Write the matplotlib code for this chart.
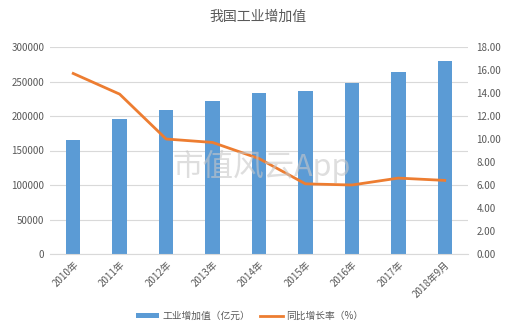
import matplotlib
matplotlib.use("Agg")
import matplotlib.pyplot as plt
import numpy as np

plt.rcParams['font.family'] = ['Noto Sans CJK SC', 'DejaVu Sans']

categories = ["2010年", "2011年", "2012年", "2013年", "2014年", "2015年", "2016年", "2017年", "2018年9月"]
value_added = [165126, 195142, 208906, 222338, 233856, 236506, 247878, 263500, 280000]
growth_rate = [15.7, 13.9, 10.0, 9.7, 8.3, 6.1, 6.0, 6.6, 6.4]
left_ticks = [0, 50000, 100000, 150000, 200000, 250000, 300000]
right_ticks = [0, 2, 4, 6, 8, 10, 12, 14, 16, 18]

bar_color = '#5b9bd5'
line_color = '#ed7d31'
text_color = '#595959'
grid_color = '#d9d9d9'

fig = plt.figure(figsize=(5.17, 3.33), dpi=100)
ax = fig.add_axes([50/517, 1-254/333, 418/517, 207/333])
x = np.arange(len(categories))
ax.bar(x, value_added, width=0.31, color=bar_color, zorder=2, label='工业增加值（亿元）')
ax.set_xlim(-0.5, len(categories)-0.5)
ax.set_ylim(0, 300000)
ax.set_yticks(left_ticks)
ax.set_yticklabels([str(t) for t in left_ticks])
ax.grid(axis='y', color=grid_color, linewidth=0.8, zorder=0)
ax.set_axisbelow(True)
for s in ['top', 'right', 'left']:
    ax.spines[s].set_visible(False)
ax.spines['bottom'].set_color(grid_color)
ax.tick_params(axis='both', length=0, labelsize=7, colors=text_color, pad=4)
ax.set_xticks(x)
ax.set_xticklabels(categories, rotation=45, ha='right', rotation_mode='anchor')

ax2 = ax.twinx()
ax2.plot(x, growth_rate, color=line_color, linewidth=2, zorder=3, label='同比增长率（%）')
ax2.set_ylim(0, 18)
ax2.set_yticks(right_ticks)
ax2.set_yticklabels([f"{t:.2f}" for t in right_ticks])
for s in ['top', 'right', 'left', 'bottom']:
    ax2.spines[s].set_visible(False)
ax2.tick_params(axis='y', length=0, labelsize=7, colors=text_color, pad=6)

fig.text(258/517, 1-17/333, '我国工业增加值', ha='center', va='center', fontsize=10, color=text_color)
fig.text(262/517, 1-166/333, '市值风云App', ha='center', va='center', fontsize=22,
         color='#c8c8c8', alpha=0.6, zorder=10)

h1, l1 = ax.get_legend_handles_labels()
h2, l2 = ax2.get_legend_handles_labels()
fig.legend(h1 + h2, l1 + l2, loc='center', bbox_to_anchor=(250/517, 1-316/333), ncol=2,
           frameon=False, fontsize=7, labelcolor=text_color, handlelength=2.3, columnspacing=1.0,
           handletextpad=0.4, handleheight=0.5)

fig.savefig('out.png', dpi=100)
